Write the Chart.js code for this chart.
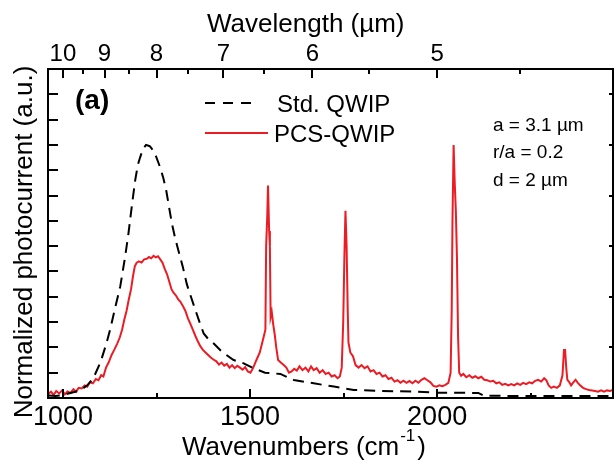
<!DOCTYPE html>
<html>
<head>
<meta charset="utf-8">
<script src="https://cdn.jsdelivr.net/npm/chart.js@4/dist/chart.umd.min.js"></script>
<style>
  body { margin: 0; background: #fff; }
  canvas { display: block; }
</style>
</head>
<body>
<canvas id="spectrum" width="614" height="471"></canvas>
<script>
/* Std. QWIP vs PCS-QWIP photocurrent spectra */

// ---- data (wavenumber cm^-1 / normalized photocurrent) ----
const stdWn = [962, 980, 1000, 1020, 1046, 1065, 1081, 1100, 1115, 1126, 1140, 1153, 1166, 1175, 1185, 1193, 1200, 1206, 1214, 1222,
    1232, 1242, 1250, 1260, 1268, 1276, 1284, 1291, 1300, 1309, 1320, 1331, 1342, 1354, 1365, 1376, 1390, 1403, 1425, 1456,
    1483, 1510, 1540, 1581, 1600, 1617, 1670, 1724, 1777, 1849, 1938, 2000, 2110, 2125, 2200, 2300, 2470];
const stdVal = [0.01, 0.008, 0.012, 0.02, 0.03, 0.05, 0.078, 0.14, 0.21, 0.27, 0.36, 0.44, 0.557, 0.65, 0.77, 0.86, 0.92, 0.95, 0.985, 1.0,
    0.995, 0.977, 0.95, 0.91, 0.87, 0.82, 0.75, 0.69, 0.63, 0.58, 0.52, 0.45, 0.4, 0.347, 0.3, 0.255, 0.23, 0.215, 0.182, 0.15,
    0.137, 0.117, 0.1, 0.095, 0.082, 0.071, 0.058, 0.045, 0.032, 0.028, 0.025, 0.021, 0.02, 0.009, 0.008, 0.008, 0.008];

const pcsWn = [960, 968, 975, 982, 990, 998, 1005, 1012, 1020, 1028, 1035, 1042, 1050, 1058, 1065, 1072, 1080, 1088, 1095, 1102,
    1108, 1115, 1122, 1130, 1137, 1145, 1152, 1158, 1164, 1170, 1176, 1182, 1187, 1192, 1197, 1203, 1210, 1217, 1224, 1230,
    1236, 1242, 1248, 1254, 1260, 1266, 1272, 1278, 1284, 1290, 1296, 1302, 1308, 1314, 1320, 1327, 1334, 1340, 1347, 1354,
    1360, 1367, 1374, 1381, 1388, 1395, 1402, 1410, 1417, 1424, 1431, 1438, 1445, 1452, 1459, 1466, 1473, 1480, 1487, 1494,
    1501, 1508, 1514, 1520, 1526, 1532, 1537, 1541, 1543, 1546, 1548, 1551, 1553, 1555, 1558, 1562, 1566, 1570, 1575, 1582,
    1590, 1597, 1604, 1611, 1618, 1625, 1632, 1640, 1648, 1656, 1663, 1670, 1678, 1686, 1694, 1702, 1710, 1718, 1726, 1734,
    1740, 1745, 1749, 1752, 1755, 1758, 1761, 1763, 1768, 1775, 1782, 1790, 1798, 1806, 1814, 1822, 1830, 1838, 1846, 1854,
    1862, 1870, 1878, 1886, 1894, 1902, 1910, 1918, 1926, 1934, 1942, 1950, 1958, 1966, 1974, 1982, 1990, 1998, 2006, 2014,
    2022, 2030, 2036, 2039, 2041, 2044, 2047, 2050, 2053, 2056, 2059, 2064, 2070, 2078, 2086, 2094, 2102, 2110, 2118, 2126,
    2134, 2142, 2150, 2158, 2166, 2174, 2182, 2190, 2198, 2206, 2214, 2222, 2230, 2238, 2246, 2254, 2262, 2270, 2278, 2286,
    2292, 2298, 2305, 2312, 2320, 2328, 2335, 2339, 2342, 2345, 2348, 2352, 2358, 2364, 2370, 2376, 2382, 2390, 2398, 2406,
    2414, 2422, 2430, 2438, 2446, 2454, 2462, 2470];
const pcsVal = [0.015, 0.025, 0.012, 0.028, 0.018, 0.03, 0.014, 0.026, 0.02, 0.035, 0.025, 0.04, 0.038, 0.05, 0.045, 0.062, 0.058, 0.075, 0.07, 0.09,
    0.085, 0.12, 0.14, 0.17, 0.19, 0.215, 0.24, 0.27, 0.31, 0.345, 0.39, 0.43, 0.48, 0.52, 0.535, 0.54, 0.535, 0.548, 0.55, 0.557,
    0.552, 0.562, 0.556, 0.56, 0.548, 0.535, 0.51, 0.49, 0.46, 0.43, 0.415, 0.405, 0.39, 0.38, 0.365, 0.345, 0.315, 0.295, 0.27, 0.245,
    0.225, 0.205, 0.19, 0.18, 0.17, 0.16, 0.152, 0.145, 0.132, 0.14, 0.128, 0.135, 0.12, 0.13, 0.118, 0.127, 0.12, 0.112, 0.122, 0.105,
    0.1, 0.118, 0.14, 0.16, 0.18, 0.215, 0.245, 0.27, 0.6, 0.72, 0.84, 0.66, 0.6, 0.32, 0.34, 0.29, 0.25, 0.2, 0.15, 0.14,
    0.13, 0.12, 0.1, 0.105, 0.115, 0.108, 0.125, 0.11, 0.12, 0.105, 0.125, 0.11, 0.118, 0.1, 0.11, 0.095, 0.1, 0.085, 0.09, 0.078,
    0.085, 0.12, 0.3, 0.55, 0.74, 0.6, 0.35, 0.22, 0.18, 0.165, 0.13, 0.12, 0.13, 0.118, 0.125, 0.105, 0.11, 0.095, 0.1, 0.085,
    0.09, 0.075, 0.08, 0.065, 0.07, 0.06, 0.068, 0.06, 0.067, 0.058, 0.068, 0.06, 0.072, 0.078, 0.07, 0.062, 0.048, 0.045, 0.05, 0.047,
    0.052, 0.06, 0.1, 0.35, 0.7, 1.0, 0.85, 0.74, 0.55, 0.24, 0.1, 0.088, 0.095, 0.082, 0.09, 0.08, 0.086, 0.078, 0.084, 0.072,
    0.07, 0.065, 0.068, 0.058, 0.062, 0.052, 0.056, 0.05, 0.055, 0.05, 0.058, 0.052, 0.06, 0.055, 0.062, 0.058, 0.068, 0.072, 0.065, 0.078,
    0.07, 0.05, 0.04, 0.045, 0.04, 0.05, 0.09, 0.19, 0.19, 0.12, 0.072, 0.065, 0.05, 0.062, 0.072, 0.06, 0.05, 0.04, 0.035, 0.032,
    0.03, 0.028, 0.025, 0.03, 0.025, 0.03, 0.028, 0.032];

// ---- axes ----
const wnMin = 960, wnMax = 2470;
const yMin = 0, yMax = 1.3;
const bottomMajor = [1000, 1500, 2000];
const bottomMinor = [1250, 1750, 2250];
const topMajorUm = [10, 9, 8, 7, 6, 5];
const topMinorUm = [9.5, 8.5, 7.5, 6.5, 5.5, 4.5];
const leftTicks = [0.1, 0.2, 0.3, 0.4, 0.5, 0.6, 0.7, 0.8, 0.9, 1.0, 1.1, 1.2];
const rightTicks = [0.2, 0.4, 0.6, 0.8, 1.0, 1.2];

const RED = '#ec1c24';
const FONT = '"Liberation Sans", Arial, Helvetica, sans-serif';

// frame, inward ticks, titles and annotations
const framePlugin = {
    id: 'frame',
    afterDraw(chart) {
        const ctx = chart.ctx;
        const a = chart.chartArea;
        const xs = chart.scales.x, ys = chart.scales.y;
        ctx.save();
        ctx.strokeStyle = '#000';
        ctx.lineWidth = 2;
        ctx.strokeRect(a.left, a.top, a.right - a.left, a.bottom - a.top);

        ctx.beginPath();
        leftTicks.forEach(v => {
            const y = Math.round(ys.getPixelForValue(v));
            ctx.moveTo(a.left, y); ctx.lineTo(a.left + 10, y);
        });
        rightTicks.forEach(v => {
            const y = Math.round(ys.getPixelForValue(v));
            ctx.moveTo(a.right, y); ctx.lineTo(a.right - 4, y);
        });
        bottomMajor.forEach(v => {
            const x = Math.round(xs.getPixelForValue(v));
            ctx.moveTo(x, a.bottom); ctx.lineTo(x, a.bottom - 9);
        });
        bottomMinor.forEach(v => {
            const x = Math.round(xs.getPixelForValue(v));
            ctx.moveTo(x, a.bottom); ctx.lineTo(x, a.bottom - 5);
        });
        topMajorUm.forEach(um => {
            const x = Math.round(xs.getPixelForValue(10000 / um));
            ctx.moveTo(x, a.top); ctx.lineTo(x, a.top + 9);
        });
        topMinorUm.forEach(um => {
            const x = Math.round(xs.getPixelForValue(10000 / um));
            ctx.moveTo(x, a.top); ctx.lineTo(x, a.top + 5);
        });
        ctx.stroke();

        ctx.fillStyle = '#000';
        ctx.textBaseline = 'alphabetic';
        ctx.textAlign = 'left';

        // axis titles
        ctx.font = '26px ' + FONT;
        ctx.fillText('Wavelength (\u00b5m)', 207, 32);
        let tx = 182;
        const base = 'Wavenumbers (cm';
        ctx.fillText(base, tx, 455);
        tx += ctx.measureText(base).width;
        ctx.font = '17px ' + FONT;
        ctx.fillText('-1', tx + 1, 441);
        tx += ctx.measureText('-1').width + 3;
        ctx.font = '26px ' + FONT;
        ctx.fillText(')', tx, 455);

        ctx.save();
        ctx.translate(32, 242);
        ctx.rotate(-Math.PI / 2);
        ctx.textAlign = 'center';
        ctx.fillText('Normalized photocurrent (a.u.)', 0, 0);
        ctx.restore();

        // panel label
        ctx.font = 'bold 28px ' + FONT;
        ctx.fillText('(a)', 75, 109);

        // legend
        ctx.lineWidth = 2;
        ctx.setLineDash([10, 8]);
        ctx.beginPath(); ctx.moveTo(205, 103); ctx.lineTo(255, 103); ctx.stroke();
        ctx.setLineDash([]);
        ctx.strokeStyle = RED;
        ctx.beginPath(); ctx.moveTo(205, 133); ctx.lineTo(268, 133); ctx.stroke();
        ctx.font = '24px ' + FONT;
        ctx.fillText('Std. QWIP', 277, 112);
        ctx.fillText('PCS-QWIP', 274, 142);

        // structure parameters
        ctx.font = '19px ' + FONT;
        ctx.fillText('a = 3.1 \u00b5m', 493, 131);
        ctx.fillText('r/a = 0.2', 493, 158);
        ctx.fillText('d = 2 \u00b5m', 493, 186);
        ctx.restore();
    }
};

const ctx = document.getElementById('spectrum').getContext('2d');
new Chart(ctx, {
    type: 'line',
    data: {
        datasets: [
            {
                label: 'Std. QWIP',
                data: stdWn.map((w, i) => ({x: w, y: stdVal[i]})),
                borderColor: '#000',
                borderWidth: 2,
                borderDash: [11, 7],
                pointRadius: 0,
                fill: false,
                tension: 0,
            },
            {
                label: 'PCS-QWIP',
                data: pcsWn.map((w, i) => ({x: w, y: pcsVal[i]})),
                borderColor: RED,
                borderWidth: 2,
                pointRadius: 0,
                fill: false,
                tension: 0,
            },
        ]
    },
    options: {
        responsive: false,
        animation: false,
        layout: { padding: { left: 0, right: 1, top: 0, bottom: 0 } },
        scales: {
            x: {
                type: 'linear',
                position: 'bottom',
                min: wnMin,
                max: wnMax,
                afterBuildTicks: s => { s.ticks = bottomMajor.map(v => ({value: v})); },
                afterFit: s => { s.height = 73; },
                grid: { display: false, drawTicks: false },
                border: { display: false },
                ticks: {
                    autoSkip: false,
                    maxRotation: 0,
                    padding: 3,
                    color: '#000',
                    font: { family: FONT, size: 27 },
                    callback: v => String(v),
                },
            },
            x2: {
                type: 'linear',
                position: 'top',
                min: wnMin,
                max: wnMax,
                afterBuildTicks: s => { s.ticks = topMajorUm.map(um => ({value: 10000 / um})); },
                afterFit: s => { s.height = 69; },
                grid: { display: false, drawTicks: false },
                border: { display: false },
                ticks: {
                    autoSkip: false,
                    maxRotation: 0,
                    padding: 0,
                    color: '#000',
                    font: { family: FONT, size: 24 },
                    callback: (v, i) => String(topMajorUm[i]),
                },
            },
            y: {
                min: yMin,
                max: yMax,
                afterFit: s => { s.width = 48; },
                grid: { display: false, drawTicks: false },
                border: { display: false },
                ticks: { display: false },
            },
        },
        plugins: {
            legend: { display: false },
            tooltip: { enabled: false },
        }
    },
    plugins: [framePlugin]
});
</script>
</body>
</html>
